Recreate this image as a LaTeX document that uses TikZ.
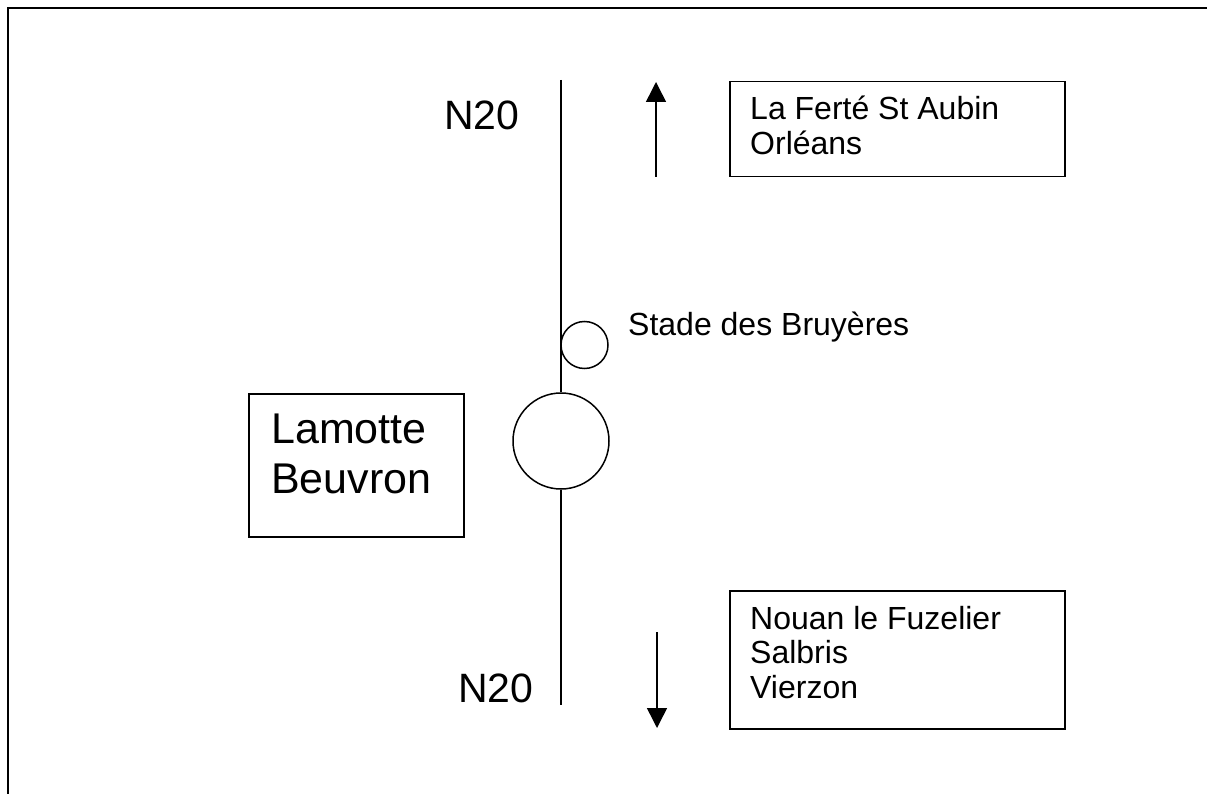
\documentclass[tikz,border=0pt]{standalone}
\usepackage{fontspec}
\setmainfont{Liberation Sans}
\usetikzlibrary{arrows.meta}
\begin{document}
\begin{tikzpicture}[x=1pt,y=-1pt,
  box/.style={draw,line width=1.5pt,rectangle,inner sep=0pt,anchor=north west},
  txt/.style={anchor=base west,inner sep=0pt,font=\fontsize{32}{35}\selectfont},
  bigtxt/.style={anchor=base west,inner sep=0pt,font=\fontsize{43}{50}\selectfont},
  roadtxt/.style={anchor=base west,inner sep=0pt,font=\fontsize{41}{48}\selectfont},
  stadetxt/.style={anchor=base west,inner sep=0pt,font=\fontsize{32}{35}\selectfont},
  road/.style={line width=1.5pt},
  dirarrow/.style={line width=1.5pt,-{Triangle[width=20pt,length=20pt]}},
  ring/.style={draw,circle,line width=1.5pt,inner sep=0pt}
]
\useasboundingbox (0,0) rectangle (1207,794);
\fill[white] (0,0) rectangle (1207,794);
% outer frame (clipped by the picture edges)
\draw[line width=2.5pt] (1210,8) -- (8,8) -- (8,797);
% road and roundabouts
\node[ring,minimum size=96pt] (bigc) at (561,441) {};
\node[ring,minimum size=47pt] (smallc) at (584.5,345) {};
\coordinate (roadtop) at (561,80);
\coordinate (roadbot) at (561,705);
\draw[road] (roadtop) -- (bigc.north);
\draw[road] (bigc.south) -- (roadbot);
% direction arrows
\coordinate (upstart) at (656,177);
\coordinate (upend) at (656,82);
\coordinate (dnstart) at (657,632);
\coordinate (dnend) at (657,728);
\draw[dirarrow] (upstart) -- (upend);
\draw[dirarrow] (dnstart) -- (dnend);
% boxes
\node[box,minimum width=215pt,minimum height=143pt] (lamotte) at (248,393) {};
\node[box,minimum width=335pt,minimum height=95pt] (north) at (729,81) {};
\node[box,minimum width=335pt,minimum height=138pt] (south) at (729,590) {};
% texts
\node[bigtxt] (lam1) at (271,443) {Lamotte};
\node[bigtxt] (lam2) at (271,493) {Beuvron};
\node[txt] (n1) at (750,120) {La Ferté St Aubin};
\node[txt] (n2) at (750,155) {Orléans};
\node[txt] (s1) at (750,629) {Nouan le Fuzelier};
\node[txt] (s2) at (750,663) {Salbris};
\node[txt] (s3) at (750,698) {Vierzon};
\node[roadtxt] (ntop) at (444,130) {N20};
\node[roadtxt] (nbot) at (458,702) {N20};
\node[stadetxt] (stade) at (628,335) {Stade des Bruyères};
\end{tikzpicture}
\end{document}
